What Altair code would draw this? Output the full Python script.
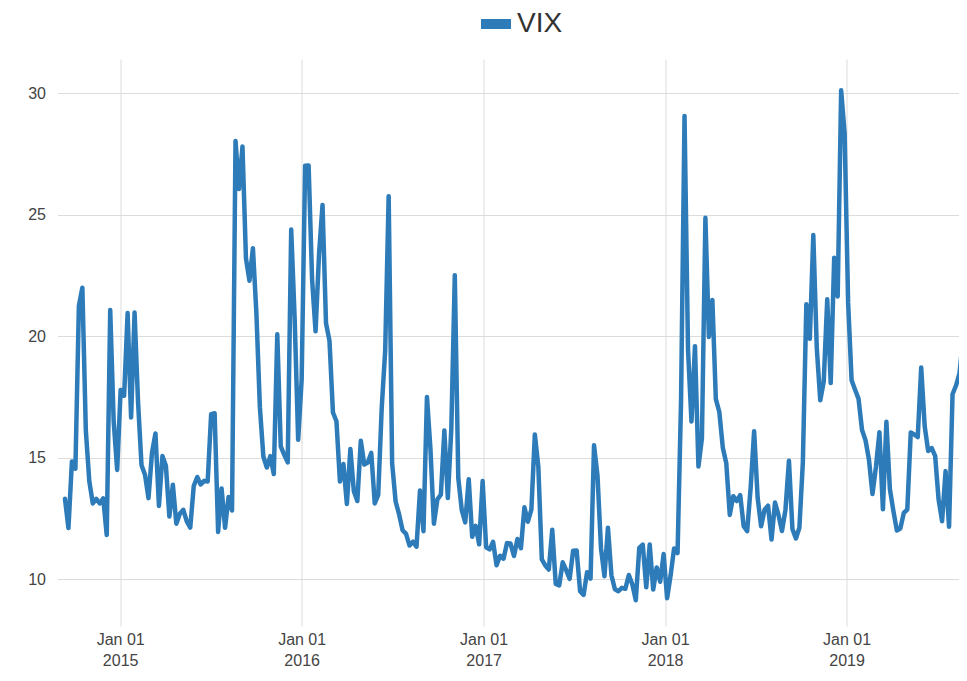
import altair as alt
import pandas as pd

series_name = "VIX"
first_week = "2014-09-12"
vix = [
    13.31, 12.11, 14.85, 14.55, 21.24, 21.99, 16.11, 14.03, 13.12, 13.31,
    13.12, 13.33, 11.82, 21.08, 16.49, 14.50, 17.79, 17.55, 20.95, 16.66,
    20.97, 17.29, 14.69, 14.30, 13.34, 15.20, 16.00, 13.02, 15.07, 14.67,
    12.58, 13.89, 12.29, 12.70, 12.86, 12.38, 12.13, 13.84, 14.21, 13.90,
    14.05, 14.02, 16.79, 16.83, 11.95, 13.74, 12.12, 13.39, 12.83, 28.03,
    26.05, 27.80, 23.20, 22.28, 23.62, 20.94, 17.08, 15.05, 14.60, 15.07,
    14.33, 20.08, 15.47, 15.12, 14.81, 24.39, 20.70, 15.74, 18.21, 27.01,
    27.02, 22.34, 20.20, 23.38, 25.40, 20.53, 19.81, 16.86, 16.50, 14.02,
    14.74, 13.10, 15.36, 13.62, 13.22, 15.70, 14.72, 14.80, 15.20, 13.12,
    13.47, 17.03, 19.41, 25.76, 14.77, 13.20, 12.67, 12.02, 11.87, 11.39,
    11.55, 11.34, 13.65, 11.98, 17.50, 15.37, 12.29, 13.29, 13.48, 16.12,
    13.34, 16.19, 22.51, 14.17, 12.85, 12.34, 14.12, 11.75, 12.20, 11.44,
    14.04, 11.32, 11.23, 11.54, 10.58, 10.97, 10.85, 11.49, 11.47, 10.96,
    11.66, 11.28, 12.96, 12.37, 12.87, 15.96, 14.63, 10.82, 10.57, 10.40,
    12.04, 9.81, 9.75, 10.70, 10.38, 10.02, 11.18, 11.19, 9.51, 9.36,
    10.29, 10.03, 15.51, 14.26, 11.28, 10.13, 12.12, 10.17, 9.59, 9.51,
    9.65, 9.61, 10.18, 9.80, 9.14, 11.29, 11.43, 9.67, 11.43, 9.58,
    10.49, 9.90, 11.04, 9.22, 10.16, 11.27, 11.08, 17.31, 29.06, 19.46,
    16.49, 19.59, 14.64, 15.80, 24.87, 19.97, 21.49, 17.41, 16.88, 15.41,
    14.77, 12.65, 13.42, 13.22, 13.46, 12.18, 11.98, 13.77, 16.09, 13.37,
    12.18, 12.86, 13.03, 11.64, 13.16, 12.64, 11.99, 12.86, 14.88, 12.07,
    11.68, 12.12, 14.82, 21.31, 19.89, 24.16, 19.51, 17.36, 18.14, 21.52,
    18.07, 23.23, 21.63, 30.11, 28.34, 21.38, 18.19, 17.80, 17.42, 16.14,
    15.72, 14.91, 13.51, 14.63, 16.05, 12.88, 16.48, 13.71, 12.82, 12.01,
    12.09, 12.73, 12.87, 16.04, 15.96, 15.85, 18.71, 16.30, 15.28, 15.40,
    15.08, 13.28, 12.39, 14.45, 12.16, 17.61, 17.97, 18.47, 19.87, 16.30,
]
y_ticks = [10, 15, 20, 25, 30]
x_tick_years = [2015, 2016, 2017, 2018, 2019]

dates = pd.date_range(start=first_week, periods=len(vix), freq="7D")
df = pd.DataFrame({"date": dates, "value": vix, "series": series_name})

line_color = "#2d7bb8"
grid_color = "#dcdcdc"
label_color = "#444444"
font = "Liberation Sans"

chart = (
    alt.Chart(df)
    .mark_line(strokeWidth=4.5, strokeJoin="round", strokeCap="round", clip=True)
    .encode(
        x=alt.X(
            "date:T",
            title=None,
            scale=alt.Scale(
                domain=[
                    alt.DateTime(year=2014, month=8, date=28),
                    alt.DateTime(year=2019, month=8, date=15),
                ]
            ),
            axis=alt.Axis(
                values=[alt.DateTime(year=y, month=1, date=1) for y in x_tick_years],
                labelExpr="[timeFormat(datum.value, '%b %d'), timeFormat(datum.value, '%Y')]",
                grid=True,
                gridColor=grid_color,
                gridWidth=1,
                domain=False,
                ticks=False,
                tickSize=0,
                labelPadding=5,
                labelFontSize=16,
                labelLineHeight=21,
                labelColor=label_color,
                labelFont=font,
            ),
        ),
        y=alt.Y(
            "value:Q",
            title=None,
            scale=alt.Scale(domain=[8.08, 31.4], nice=False, zero=False),
            axis=alt.Axis(
                values=y_ticks,
                grid=True,
                gridColor=grid_color,
                gridWidth=1,
                domain=False,
                ticks=False,
                tickSize=0,
                labelPadding=12,
                labelFontSize=16,
                labelColor=label_color,
                labelFont=font,
            ),
        ),
        color=alt.Color(
            "series:N",
            scale=alt.Scale(domain=[series_name], range=[line_color]),
            legend=alt.Legend(
                title=None,
                orient="none",
                legendX=418.5,
                legendY=-55,
                symbolType="stroke",
                symbolSize=900,
                symbolStrokeWidth=10,
                symbolStrokeColor=line_color,
                labelFontSize=28,
                labelFont=font,
                labelColor="#333333",
                labelOffset=1,
                padding=0,
            ),
        ),
    )
    .properties(
        width=901.5,
        height=567,
        autosize=alt.AutoSizeParams(type="none"),
        padding={"left": 49.5, "top": 51, "right": 0, "bottom": 43},
        background="white",
    )
    .configure_view(stroke=None)
)

chart.save("out.html", embed_options={"renderer": "svg", "actions": False})
